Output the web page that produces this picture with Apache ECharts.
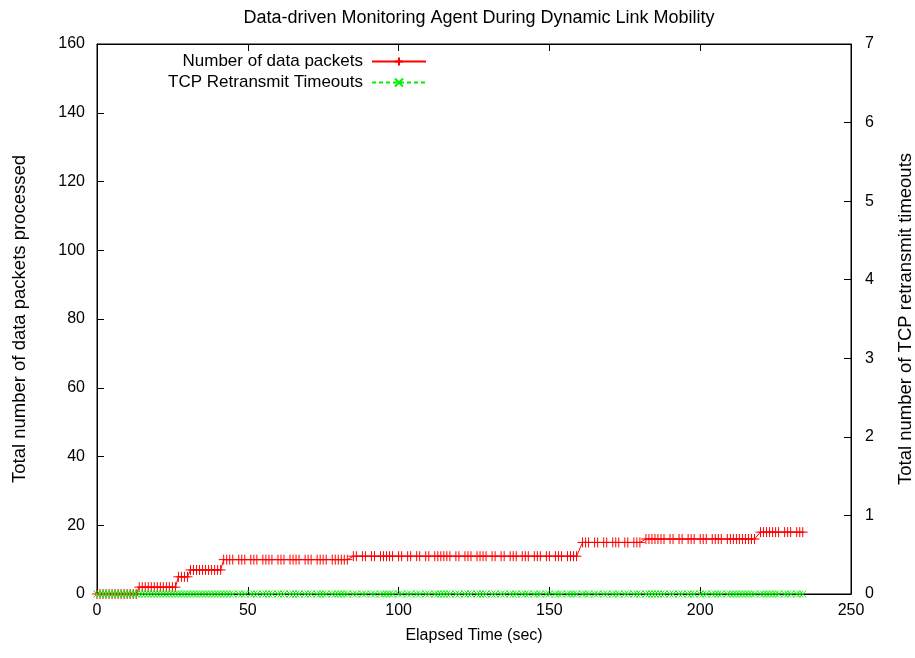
<!DOCTYPE html>
<html>
<head>
<meta charset="utf-8">
<script src="https://cdn.jsdelivr.net/npm/echarts@6/dist/echarts.min.js"></script>
<style>
  html, body { margin: 0; padding: 0; background: #fff; }
  #chart { width: 915px; height: 658px; }
</style>
</head>
<body>
<div id="chart"></div>
<script>
// Cumulative packet count reached at each plateau
const packetLevels = [0, 2, 5, 7, 10, 11, 15, 16, 18];

// Elapsed seconds at which a sample was logged, grouped by plateau
const levelTimes = [
  [0, 1, 2, 3, 4, 5, 6, 7, 8, 9, 10, 11, 12, 13],
  [14, 15, 16, 17, 18, 19, 20, 21, 22, 23, 24, 25, 26],
  [27, 28, 29, 30],
  [31, 32, 33, 34, 35, 36, 37, 38, 39, 40, 41],
  [42, 43, 44, 45, 47, 48, 49, 51, 52, 53, 55, 56, 57, 58, 60, 61, 62, 64, 65, 66, 67,
   69, 70, 71, 73, 74, 75, 76, 78, 79, 80, 81, 82, 83],
  [85, 86, 88, 89, 91, 92, 94, 95, 96, 97, 98, 100, 101, 103, 104, 106, 107, 109, 110,
   112, 113, 114, 115, 116, 117, 119, 120, 122, 123, 124, 126, 127, 128, 129, 131, 132,
   134, 135, 137, 138, 139, 141, 142, 143, 145, 146, 147, 149, 150, 152, 153, 154, 156,
   157, 158, 159],
  [161, 162, 163, 165, 166, 168, 169, 171, 172, 173, 175, 176, 178, 179, 180],
  [182, 183, 184, 185, 186, 187, 188, 190, 191, 193, 194, 196, 197, 198, 200, 201, 202,
   204, 205, 206, 207, 209, 210, 211, 212, 213, 214, 215, 216, 217, 218],
  [220, 221, 222, 223, 224, 225, 226, 228, 229, 230, 232, 233, 234]
];

// TCP retransmit timeouts counted during each plateau (none occurred)
const timeoutLevels = [0, 0, 0, 0, 0, 0, 0, 0, 0];

const xTicks = { min: 0, max: 250, interval: 50 };
const leftTicks = { min: 0, max: 160, interval: 20 };
const rightTicks = { min: 0, max: 7, interval: 1 };

const packetData = [];
const timeoutData = [];
levelTimes.forEach((times, i) => {
  times.forEach(t => {
    packetData.push([t, packetLevels[i]]);
    timeoutData.push([t, timeoutLevels[i]]);
  });
});

const FONT = '"Liberation Sans", Arial, Helvetica, sans-serif';
const RED = '#ff0000';
const GREEN = '#00f000';
const plusSymbol = 'path://M0,5L10,5M5,0L5,10';
const crossSymbol = 'path://M0,0L10,10M0,10L10,0';

const axisCommon = {
  axisLine: { show: true, onZero: false, lineStyle: { color: '#000', width: 1 } },
  axisTick: { show: true, inside: true, length: 7, lineStyle: { color: '#000', width: 1 } },
  splitLine: { show: false },
  axisLabel: { color: '#000', fontFamily: FONT, fontSize: 16 },
  nameTextStyle: { color: '#000', fontFamily: FONT, fontSize: 16 }
};
const sideNameStyle = { color: '#000', fontFamily: FONT, fontSize: 18.5 };

const chart = echarts.init(document.getElementById('chart'), null, { renderer: 'canvas' });
chart.setOption({
  animation: false,
  backgroundColor: '#fff',
  title: {
    text: 'Data-driven Monitoring Agent During Dynamic Link Mobility',
    left: 474, top: 4, textAlign: 'center',
    textStyle: { color: '#000', fontFamily: FONT, fontSize: 18, fontWeight: 'normal' }
  },
  legend: [
    {
      data: ['Number of data packets'],
      right: 483, top: 48, align: 'right',
      itemWidth: 54, itemHeight: 10,
      textStyle: { color: '#000', fontFamily: FONT, fontSize: 17, padding: [0, 4, 0, 0] }
    },
    {
      data: ['TCP Retransmit Timeouts'],
      right: 483, top: 69, align: 'right',
      itemWidth: 54, itemHeight: 10,
      textStyle: { color: '#000', fontFamily: FONT, fontSize: 17, padding: [0, 4, 0, 0] }
    }
  ],
  grid: {
    left: 97, right: 64, top: 44, bottom: 64,
    containLabel: false, outerBoundsMode: 'none',
    show: true, borderColor: '#000', borderWidth: 1
  },
  xAxis: [
    Object.assign({}, axisCommon, {
      type: 'value', position: 'bottom',
      min: xTicks.min, max: xTicks.max, interval: xTicks.interval,
      name: 'Elapsed Time (sec)', nameLocation: 'middle', nameGap: 34,
      axisLabel: Object.assign({}, axisCommon.axisLabel, { margin: 9 })
    }),
    Object.assign({}, axisCommon, {
      type: 'value', position: 'top',
      min: xTicks.min, max: xTicks.max, interval: xTicks.interval,
      axisLabel: { show: false }
    })
  ],
  yAxis: [
    Object.assign({}, axisCommon, {
      type: 'value', position: 'left',
      min: leftTicks.min, max: leftTicks.max, interval: leftTicks.interval,
      name: 'Total number of data packets processed', nameLocation: 'middle', nameGap: 68, nameRotate: 90,
      nameTextStyle: sideNameStyle,
      axisLabel: Object.assign({}, axisCommon.axisLabel, { margin: 12 })
    }),
    Object.assign({}, axisCommon, {
      type: 'value', position: 'right',
      min: rightTicks.min, max: rightTicks.max, interval: rightTicks.interval,
      name: 'Total number of TCP retransmit timeouts', nameLocation: 'middle', nameGap: 45, nameRotate: 90,
      nameTextStyle: sideNameStyle,
      axisLabel: Object.assign({}, axisCommon.axisLabel, { margin: 14 })
    })
  ],
  series: [
    {
      name: 'Number of data packets',
      type: 'line',
      xAxisIndex: 0, yAxisIndex: 0,
      data: packetData,
      symbol: plusSymbol, symbolSize: 10,
      showAllSymbol: true,
      lineStyle: { color: RED, width: 1 },
      itemStyle: { color: RED, borderColor: RED, borderWidth: 1 },
      z: 2
    },
    {
      name: 'TCP Retransmit Timeouts',
      type: 'line',
      xAxisIndex: 0, yAxisIndex: 1,
      data: timeoutData,
      symbol: crossSymbol, symbolSize: 7,
      showAllSymbol: true,
      lineStyle: { color: GREEN, width: 1, type: [4, 3] },
      itemStyle: { color: GREEN, borderColor: GREEN, borderWidth: 1 },
      z: 3
    }
  ]
});
</script>
</body>
</html>
